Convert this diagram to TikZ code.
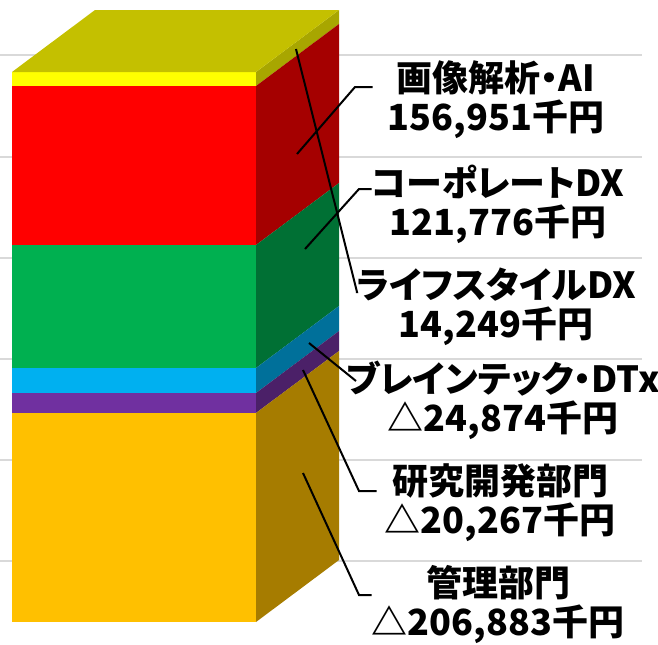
\documentclass[tikz,border=0pt]{standalone}
\usepackage{fontspec}
\setmainfont{Noto Sans CJK JP}[RawFeature=+palt]
\usetikzlibrary{calc}

%% face colours (front / side)
\definecolor{gridgray}{HTML}{D9D9D9}
\definecolor{topF}{HTML}{C4C000}
\definecolor{yelF}{HTML}{FFFF00}
\definecolor{yelS}{HTML}{A8A600}
\definecolor{redF}{HTML}{FF0000}
\definecolor{redS}{HTML}{A50000}
\definecolor{grnF}{HTML}{00B050}
\definecolor{grnS}{HTML}{007034}
\definecolor{bluF}{HTML}{00B0F0}
\definecolor{bluS}{HTML}{00709A}
\definecolor{purF}{HTML}{7030A0}
\definecolor{purS}{HTML}{4B2068}
\definecolor{orgF}{HTML}{FFC000}
\definecolor{orgS}{HTML}{A67C00}

\begin{document}
\begin{tikzpicture}[x=0.75pt,y=-0.75pt,
    grid/.style={draw=gridgray,line width=1pt},
    leader/.style={draw=black,line width=1.5pt},
    lbl/.style={align=center,inner sep=0pt,minimum width=184.5pt,
      font=\fontsize{27pt}{29.25pt}\selectfont\bfseries}]
  \useasboundingbox (0,0) rectangle (658,644);
  %% gridlines
  \foreach \gy in {55,157,258,359,460,561}
    \draw[grid] (0,\gy) -- (642,\gy);
  %% stacked block, one layer at a time
  \foreach \yt/\yb/\fc/\sc in {72/86/yelF/yelS,86/245/redF/redS,245/368/grnF/grnS,
      368/393/bluF/bluS,393/413/purF/purS,413/622/orgF/orgS}{
    \fill[\fc] (12,\yt) rectangle (256,\yb);
    \fill[\sc] (256,\yt) -- (339,\yt-62) -- (339,\yb-62) -- (256,\yb) -- cycle;
  }
  \fill[topF] (12,72) -- (256,72) -- (339,10) -- (95,10) -- cycle;

  %% labels
  \node[lbl] (aiLbl) at (496,100) {画像解析・AI\\156,951千円};
  \node[lbl] (corpLbl) at (498,204) {コーポレートDX\\121,776千円};
  \node[lbl] (lifeLbl) at (496,307) {ライフスタイルDX\\14,249千円};
  \node[lbl] (brainLbl) at (503,400) {ブレインテック・DTx\\△24,874千円};
  \node[lbl] (rdLbl) at (500,503) {研究開発部門\\△20,267千円};
  \node[lbl] (mgmtLbl) at (498,605) {管理部門\\△206,883千円};

  %% leader lines
  \coordinate (aiPt) at (297,154);    \coordinate (aiKnee) at (355,87);
  \coordinate (corpPt) at (305,249);  \coordinate (corpKnee) at (359,189);
  \coordinate (lifePt) at (296,49);   \coordinate (lifeKnee) at (357,292);
  \coordinate (brainPt) at (309,343); \coordinate (brainKnee) at (356,381);
  \coordinate (rdPt) at (303,370);    \coordinate (rdKnee) at (359,491);
  \coordinate (mgmtPt) at (303,473);  \coordinate (mgmtKnee) at (359,595);
  \draw[leader] (aiPt) -- (aiKnee) -- (aiKnee -| aiLbl.west);
  \draw[leader] (corpPt) -- (corpKnee) -- (corpKnee -| corpLbl.west);
  \draw[leader] (lifePt) -- (lifeKnee) -- (lifeKnee -| lifeLbl.west);
  \draw[leader] (brainPt) -- (brainKnee);
  \draw[leader] (rdPt) -- (rdKnee) -- (rdKnee -| rdLbl.west);
  \draw[leader] (mgmtPt) -- (mgmtKnee) -- (mgmtKnee -| mgmtLbl.west);
\end{tikzpicture}
\end{document}
